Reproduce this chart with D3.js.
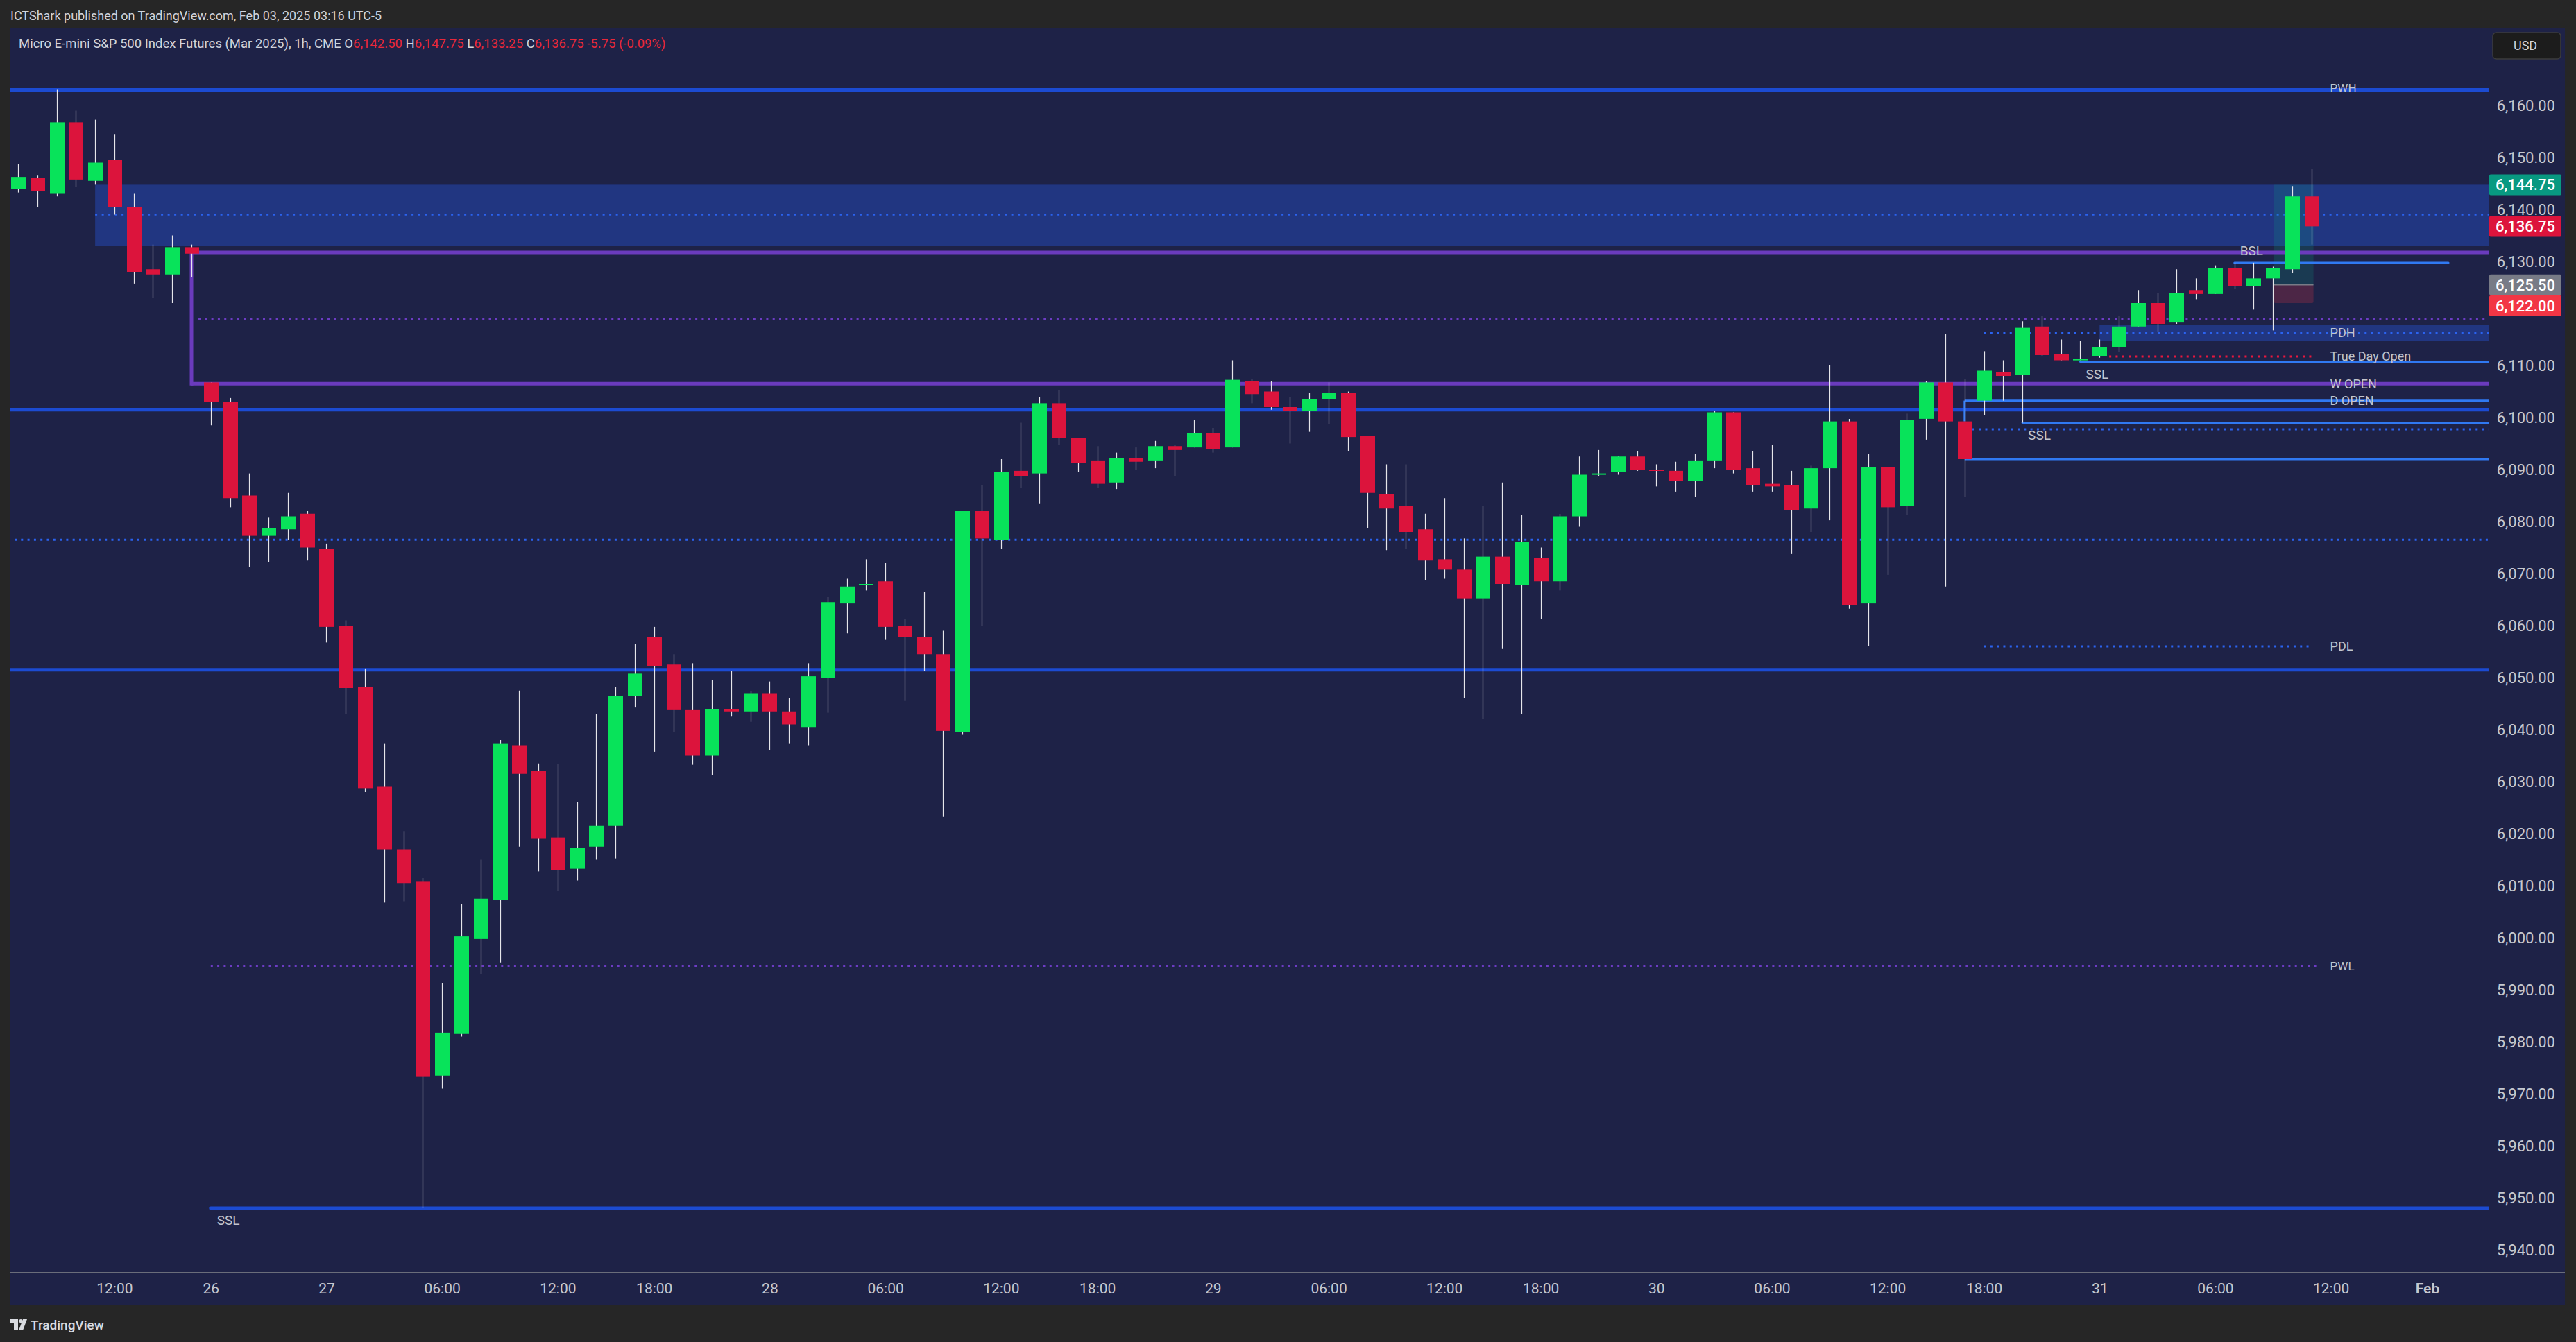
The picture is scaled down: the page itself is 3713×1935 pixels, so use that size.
<!DOCTYPE html>
<html><head><meta charset="utf-8">
<script src="https://cdn.jsdelivr.net/npm/d3@7/dist/d3.min.js"></script>
<style>
html,body{margin:0;padding:0;background:#262626;overflow:hidden;}
svg{display:block;}
text{font-family:Roboto,"Noto Sans",sans-serif;}
</style></head><body>
<svg id="chart" width="3713" height="1935"></svg>
<script>
// ---------------- DATA ----------------
const opens = [6144.0,6146.0,6143.0,6156.75,6145.5,6149.5,6140.5,6128.5,6127.5,6132.75,
6106.75,6103.0,6085.0,6077.25,6078.5,6081.5,6074.75,6060.0,6048.25,6029.0,
6017.0,6010.75,5973.5,5981.5,5999.75,6007.25,6037.0,6032.0,6019.25,6013.25,
6017.5,6021.5,6046.5,6057.75,6052.5,6043.75,6035.0,6044.0,6043.5,6047.0,
6043.5,6040.5,6050.0,6064.25,6067.75,6068.5,6060.0,6057.75,6054.5,6039.5,
6082.0,6076.5,6089.75,6089.25,6102.75,6096.0,6091.75,6087.5,6092.25,6091.75,
6094.5,6094.25,6097.0,6094.25,6107.0,6105.0,6102.0,6101.25,6103.5,6104.75,
6096.5,6085.25,6083.0,6078.5,6072.75,6070.75,6065.25,6073.25,6067.75,6073.0,
6068.5,6081.0,6089.0,6089.5,6092.5,6090.0,6089.75,6087.75,6091.75,6101.0,
6090.25,6087.25,6087.0,6082.5,6090.25,6099.25,6064.25,6090.5,6083.0,6099.75,
6106.75,6099.25,6103.25,6108.75,6108.25,6117.5,6112.25,6111.25,6111.75,6113.5,
6117.5,6122.0,6118.25,6124.5,6123.75,6128.75,6125.25,6126.75,6128.5,6142.5];
const highs = [6148.75,6146.5,6163.0,6159.0,6157.25,6154.5,6143.0,6133.25,6135.0,6133.25,
6106.75,6103.75,6089.25,6080.75,6085.5,6082.0,6075.75,6061.0,6051.75,6037.25,
6020.5,6011.5,5991.25,6006.5,6015.0,6038.0,6047.5,6033.5,6033.5,6026.0,
6043.0,6048.25,6056.5,6059.75,6054.5,6052.75,6049.5,6051.25,6047.5,6049.25,
6046.0,6052.75,6065.5,6069.0,6072.75,6072.0,6061.25,6066.5,6059.0,6082.0,
6087.0,6092.0,6099.0,6104.0,6105.25,6096.0,6094.5,6093.25,6094.25,6095.5,
6094.75,6099.5,6098.0,6111.0,6107.5,6107.0,6104.0,6104.75,6106.75,6105.0,
6096.5,6091.0,6091.0,6081.5,6084.5,6076.75,6083.0,6087.5,6081.25,6075.0,
6081.5,6092.5,6093.75,6092.5,6093.5,6091.0,6091.5,6093.0,6101.25,6101.0,
6093.5,6094.75,6089.75,6090.75,6110.0,6099.75,6093.0,6090.5,6100.75,6107.0,
6116.0,6107.5,6112.75,6111.0,6118.5,6119.5,6115.0,6114.75,6115.0,6119.5,
6124.5,6124.0,6128.5,6126.75,6129.25,6129.75,6129.75,6129.0,6144.5,6147.75];
const lows = [6143.25,6140.5,6142.5,6144.25,6144.75,6139.0,6125.75,6123.0,6122.0,6127.0,
6098.5,6082.75,6071.25,6072.25,6076.5,6072.5,6056.75,6043.0,6028.0,6006.75,
6007.0,5948.0,5971.0,5981.0,5993.0,5995.25,6017.5,6012.75,6009.0,6011.0,
6015.0,6015.25,6044.25,6035.75,6039.5,6033.25,6031.25,6042.5,6041.5,6036.0,
6037.25,6037.0,6043.25,6058.5,6066.75,6057.25,6045.5,6051.25,6023.25,6039.0,
6060.0,6074.75,6086.5,6083.5,6094.75,6089.5,6086.5,6086.25,6090.0,6090.25,
6088.75,6094.25,6093.25,6094.25,6102.75,6101.5,6095.0,6097.25,6098.75,6093.5,
6078.75,6074.5,6074.75,6068.75,6069.0,6046.0,6042.0,6055.5,6043.0,6061.25,
6066.75,6079.0,6088.75,6089.0,6089.75,6086.75,6085.75,6084.75,6090.25,6089.25,
6085.75,6085.75,6073.75,6078.0,6080.25,6063.25,6056.0,6069.75,6081.25,6095.75,
6067.5,6084.75,6100.5,6103.25,6099.0,6111.75,6111.0,6111.0,6111.5,6112.5,
6117.5,6116.5,6118.0,6122.75,6123.75,6124.75,6120.75,6116.75,6127.75,6133.25];
const closes = [6146.25,6143.5,6156.75,6145.75,6149.0,6140.5,6128.0,6127.5,6132.75,6131.5,
6103.0,6084.5,6077.25,6078.75,6081.0,6075.0,6059.75,6048.0,6028.75,6017.0,
6010.5,5973.25,5981.75,6000.25,6007.5,6037.25,6031.5,6019.0,6013.0,6017.25,
6021.5,6046.5,6050.75,6052.25,6043.75,6035.0,6044.0,6043.5,6047.0,6043.5,
6041.0,6050.25,6064.5,6067.5,6068.0,6059.75,6057.75,6054.5,6039.75,6082.0,
6076.75,6089.5,6088.75,6102.75,6096.0,6091.25,6087.25,6092.25,6091.5,6094.5,
6093.75,6097.0,6094.0,6107.25,6104.5,6102.0,6101.25,6103.5,6104.75,6096.25,
6085.5,6082.5,6078.0,6072.5,6070.75,6065.25,6073.25,6068.0,6076.0,6068.5,
6081.0,6089.0,6089.25,6092.5,6090.0,6089.75,6087.75,6091.75,6101.0,6090.0,
6087.0,6086.75,6082.25,6090.25,6099.25,6064.0,6090.5,6082.75,6099.5,6106.75,
6099.25,6092.0,6109.0,6108.0,6117.25,6112.0,6111.0,6111.25,6113.5,6117.5,
6122.0,6118.0,6124.0,6123.75,6128.75,6125.25,6126.75,6128.75,6142.5,6136.75];

const priceTicks = d3.range(5940, 6161, 10);
const timeTickIndex  = [5,10,16,22,28,33,39,45,51,56,62,68,74,79,85,91,97,102,108,114,120,125];
const timeTickLabels = ["12:00","26","27","06:00","12:00","18:00","28","06:00","12:00","18:00","29","06:00","12:00","18:00","30","06:00","12:00","18:00","31","06:00","12:00","Feb"];

// key levels (prices) and bar index anchors
const PWH = 6163.0;
const zoneTop = 6144.75, zoneBottom = 6133.0, zoneMid = 6139.0, zoneStartBar = 4;
const boxTop = 6131.75, boxBottom = 6106.5, boxMid = 6119.0, boxStartBar = 9;
const keyLevelA = 6101.5, keyLevelB = 6051.5, dottedLevel = 6076.5;
const PWL = 5994.5, pwlFromBar = 10, pwlToBar = 119.3;
const sslLow = 5948.0, sslLowFromBar = 10;
const dOpen = 6103.25, dOpenBracketLow = 6099.25, dOpenFromBar = 101;
const bodyLowLine = 6092.0, bodyLowFromBar = 101;
const sslB = 6099.0, sslBFromBar = 104;
const dottedRight = 6097.75, dottedRightFromBar = 101.4;
const PDH = 6116.25, pdhFromBar = 102, pdhBoxTop = 6117.75, pdhBoxBottom = 6114.75, pdhBoxFromBar = 108;
const trueDayOpen = 6111.75, tdoFromBar = 108.5, tdoToBar = 119;
const sslA = 6110.75, sslAFromBar = 107;
const BSL = 6129.75, bslFromBar = 115, bslToBar = 126.1;
const PDL = 6056.0, pdlFromBar = 102, pdlToBar = 119;
const wOpen = 6106.5;
const posTarget = 6144.75, posEntry = 6125.5, posStop = 6122.0, posFromBar = 117.05, posToBar = 119.1;
const lastPrice = 6136.75;

// ---------------- LAYOUT ----------------
const W = 3713, H = 1935;
const panelL = 14, panelT = 40, panelR = 3697, panelB = 1882;
const plotR = 3587, plotB = 1834;
const navy = "#1e2247";
const thickBlue = "#1c4bd2", brightBlue = "#3079f2", purple = "#6a3bbd";
const dotBlue = "#2b63f0", dotPurple = "#6c3cc4", dotRed = "#e8173f";
const labelCol = "#c2c5cd", axisCol = "#c5c8d0";
const upCol = "#08e35a", downCol = "#dc143c";

const x = d3.scaleLinear().domain([0, 119]).range([26, 26 + 119 * 27.78]);
const y = d3.scaleLinear().domain([5940, 6160]).range([1802, 152]);
const bodyW = 21;

const svg = d3.select("#chart");
svg.append("rect").attr("width", W).attr("height", H).attr("fill", "#262626");
svg.append("rect").attr("x", panelL).attr("y", panelT).attr("width", panelR - panelL).attr("height", panelB - panelT).attr("fill", navy);

svg.append("defs").append("clipPath").attr("id", "plotclip")
  .append("rect").attr("x", panelL).attr("y", panelT).attr("width", plotR - panelL).attr("height", plotB - panelT);
const g = svg.append("g").attr("clip-path", "url(#plotclip)");

function hline(p, x0, x1, col, w, dash) {
  const l = g.append("line").attr("x1", x0).attr("x2", x1).attr("y1", y(p)).attr("y2", y(p))
    .attr("stroke", col).attr("stroke-width", w);
  if (dash) l.attr("stroke-dasharray", dash);
  return l;
}
function label(t, xp, yp, opts = {}) {
  return g.append("text").attr("x", xp).attr("y", yp).attr("dy", "0.35em")
    .attr("fill", labelCol).attr("font-size", opts.size || 18).text(t);
}

// zones
g.append("rect").attr("x", x(zoneStartBar)).attr("y", y(zoneTop)).attr("width", plotR - x(zoneStartBar))
  .attr("height", y(zoneBottom) - y(zoneTop)).attr("fill", "#213681");
hline(zoneMid, x(zoneStartBar), plotR, dotBlue, 2.5, "3 6.5");
g.append("rect").attr("x", x(pdhBoxFromBar)).attr("y", y(pdhBoxTop)).attr("width", plotR - x(pdhBoxFromBar))
  .attr("height", y(pdhBoxBottom) - y(pdhBoxTop)).attr("fill", "#213681");

// position tool
g.append("rect").attr("x", x(posFromBar)).attr("y", y(posTarget)).attr("width", x(posToBar) - x(posFromBar))
  .attr("height", y(posEntry) - y(posTarget)).attr("fill", "rgba(8,153,129,0.2)");
g.append("rect").attr("x", x(posFromBar)).attr("y", y(posEntry)).attr("width", x(posToBar) - x(posFromBar))
  .attr("height", y(posStop) - y(posEntry)).attr("fill", "rgba(242,54,69,0.22)").attr("rx", 2);
g.append("line").attr("x1", x(posFromBar)).attr("x2", x(posToBar)).attr("y1", y(posEntry)).attr("y2", y(posEntry))
  .attr("stroke", "#787b86").attr("stroke-width", 1.5);

// full-width levels
hline(PWH, panelL, plotR, thickBlue, 5);
hline(keyLevelA, panelL, plotR, thickBlue, 5);
hline(keyLevelB, panelL, plotR, thickBlue, 5);
hline(dottedLevel, panelL + 7, plotR, dotBlue, 3, "3 6.3");

// purple box
hline(boxTop, x(boxStartBar), plotR, purple, 5);
hline(boxBottom, x(boxStartBar), plotR, purple, 5);
g.append("line").attr("x1", x(boxStartBar)).attr("x2", x(boxStartBar)).attr("y1", y(boxTop) - 2.5).attr("y2", y(boxBottom) + 2.5)
  .attr("stroke", purple).attr("stroke-width", 5);
hline(boxMid, x(boxStartBar) + 10, plotR, dotPurple, 3, "3 6.3");

// weekly low / ssl
hline(PWL, x(pwlFromBar), x(pwlToBar), dotPurple, 3, "3 6.3");
hline(sslLow, x(sslLowFromBar), plotR, thickBlue, 5).attr("stroke-linecap", "round");

// right-side levels
hline(dOpen, x(dOpenFromBar), plotR, brightBlue, 3);
g.append("line").attr("x1", x(dOpenFromBar)).attr("x2", x(dOpenFromBar)).attr("y1", y(dOpen)).attr("y2", y(dOpenBracketLow))
  .attr("stroke", brightBlue).attr("stroke-width", 3);
hline(bodyLowLine, x(bodyLowFromBar), plotR, brightBlue, 3);
hline(sslB, x(sslBFromBar), plotR, brightBlue, 3).attr("stroke-linecap", "round");
hline(dottedRight, x(dottedRightFromBar), plotR, dotBlue, 3, "3 6.3");
hline(PDH, x(pdhFromBar), plotR, dotBlue, 3, "3 6.3");
hline(trueDayOpen, x(tdoFromBar), x(tdoToBar), dotRed, 3, "3 6.3");
hline(sslA, x(sslAFromBar), plotR, brightBlue, 3).attr("stroke-linecap", "round");
hline(BSL, x(bslFromBar), x(bslToBar), brightBlue, 3).attr("stroke-linecap", "round");
hline(PDL, x(pdlFromBar), x(pdlToBar), dotBlue, 3, "3 6.3");

// candles
const bars = d3.range(opens.length);
g.append("g").selectAll("line").data(bars).join("line")
  .attr("x1", i => Math.round(x(i)) + 0.5).attr("x2", i => Math.round(x(i)) + 0.5)
  .attr("y1", i => y(highs[i])).attr("y2", i => y(lows[i]))
  .attr("stroke", "#e6e6ea").attr("stroke-width", 1.2);
g.append("g").selectAll("rect").data(bars).join("rect")
  .attr("x", i => Math.round(x(i)) + 0.5 - bodyW / 2)
  .attr("width", bodyW)
  .attr("y", i => y(Math.max(opens[i], closes[i])))
  .attr("height", i => Math.max(2, Math.abs(y(opens[i]) - y(closes[i]))))
  .attr("fill", i => closes[i] >= opens[i] ? upCol : downCol);

// level labels
const labelX = x(120) - 1;
label("PWH", labelX, y(PWH) - 2, {size: 17});
label("PDH", labelX, y(PDH));
label("True Day Open", labelX, y(trueDayOpen));
label("W OPEN", labelX, y(wOpen));
label("D OPEN", labelX, y(dOpen));
label("PDL", labelX, y(PDL));
label("PWL", labelX, y(PWL), {size: 17});
label("BSL", x(bslFromBar) + 8, y(BSL) - 17.5, {size: 19});
label("SSL", x(sslAFromBar) + 8, y(sslA) + 17.5, {size: 19});
label("SSL", x(sslBFromBar) + 8, y(sslB) + 17.5, {size: 19});
label("SSL", x(sslLowFromBar) + 9, y(sslLow) + 17.5, {size: 19});

// ---------------- AXES ----------------
svg.append("line").attr("x1", plotR + 0.5).attr("x2", plotR + 0.5).attr("y1", panelT).attr("y2", panelB)
  .attr("stroke", "#5f6270").attr("stroke-width", 1);
svg.append("line").attr("x1", panelL).attr("x2", panelR).attr("y1", plotB + 0.5).attr("y2", plotB + 0.5)
  .attr("stroke", "#6a6d7a").attr("stroke-width", 1.2);

// price badges (drawn on the axis; tick labels hidden beneath them as TradingView does)
const badgePrices = [posTarget, lastPrice, posEntry, posStop];
const badgeColors = ["#089981", "#dc143c", "#787b86", "#f23645"];
const badgeShift = [0, 0, 0, 4];
const badgeCY = badgePrices.map((p, k) => y(p) + badgeShift[k]);

const yAxis = d3.axisRight(y).tickValues(priceTicks).tickSize(0).tickFormat(d3.format(",.2f"));
const ya = svg.append("g").attr("transform", `translate(${plotR},0)`).call(yAxis);
ya.select(".domain").remove();
ya.selectAll("text").attr("x", 96).attr("text-anchor", "end").attr("fill", axisCol)
  .attr("font-size", 22).attr("font-family", "Roboto, sans-serif")
  .attr("display", d => badgeCY.some(c => Math.abs(c - y(d)) < 24) ? "none" : null);

badgePrices.forEach((p, k) => {
  const cy = badgeCY[k];
  svg.append("rect").attr("x", plotR + 1).attr("y", cy - 15).attr("width", 104).attr("height", 30)
    .attr("rx", 2).attr("fill", badgeColors[k]);
  svg.append("text").attr("x", plotR + 96).attr("y", cy).attr("dy", "0.36em").attr("text-anchor", "end")
    .attr("fill", "#ffffff").attr("font-size", 22).attr("font-weight", 500).text(d3.format(",.2f")(p));
});

const xAxis = d3.axisBottom(x).tickValues(timeTickIndex).tickSize(0).tickPadding(16)
  .tickFormat((d, i) => timeTickLabels[i]);
const xa = svg.append("g").attr("transform", `translate(0,${plotB})`).call(xAxis);
xa.select(".domain").remove();
xa.selectAll("text").attr("fill", axisCol).attr("font-size", 21).attr("font-family", "Roboto, sans-serif")
  .attr("font-weight", (d, i) => timeTickLabels[i] === "Feb" ? 600 : 400);

// USD box
svg.append("rect").attr("x", 3593).attr("y", 47).attr("width", 98).attr("height", 38).attr("rx", 5)
  .attr("fill", "#1c1c1c").attr("stroke", "#3c3c3c").attr("stroke-width", 1.5);
svg.append("text").attr("x", 3623).attr("y", 66).attr("dy", "0.35em").attr("fill", "#d1d4dc")
  .attr("font-size", 18).text("USD");

// ---------------- HEADER / LEGEND ----------------
svg.append("text").attr("x", 15).attr("y", 23).attr("dy", "0.35em").attr("fill", "#d1d4dc")
  .attr("font-size", 18).text("ICTShark published on TradingView.com, Feb 03, 2025 03:16 UTC-5");

const leg = svg.append("text").attr("x", 27).attr("y", 63).attr("dy", "0.35em").attr("font-size", 18.5).attr("fill", "#d1d4dc");
leg.append("tspan").text("Micro E-mini S&P 500 Index Futures (Mar 2025), 1h, CME  ");
const legendLabels = ["O", "H", "L", "C"];
const legendVals = [opens[119], highs[119], lows[119], closes[119]];
legendLabels.forEach((lb, k) => {
  leg.append("tspan").attr("fill", "#d1d4dc").text((k ? "  " : "") + lb);
  leg.append("tspan").attr("fill", "#e8283a").text(d3.format(",.2f")(legendVals[k]));
});
leg.append("tspan").attr("fill", "#e8283a").text("  -5.75 (-0.09%)");

// TradingView logo
const lg = svg.append("g").attr("fill", "#d9dbe0");
lg.append("rect").attr("x", 15).attr("y", 1902).attr("width", 11).attr("height", 5);
lg.append("rect").attr("x", 20).attr("y", 1902).attr("width", 6).attr("height", 16);
lg.append("circle").attr("cx", 30).attr("cy", 1904.5).attr("r", 2.6);
lg.append("path").attr("d", "M33,1902 L39,1902 L33,1918 L27,1918 Z");
svg.append("text").attr("x", 44).attr("y", 1910).attr("dy", "0.35em").attr("fill", "#d9dbe0")
  .attr("font-size", 19).attr("font-weight", 500).text("TradingView");
</script></body></html>
